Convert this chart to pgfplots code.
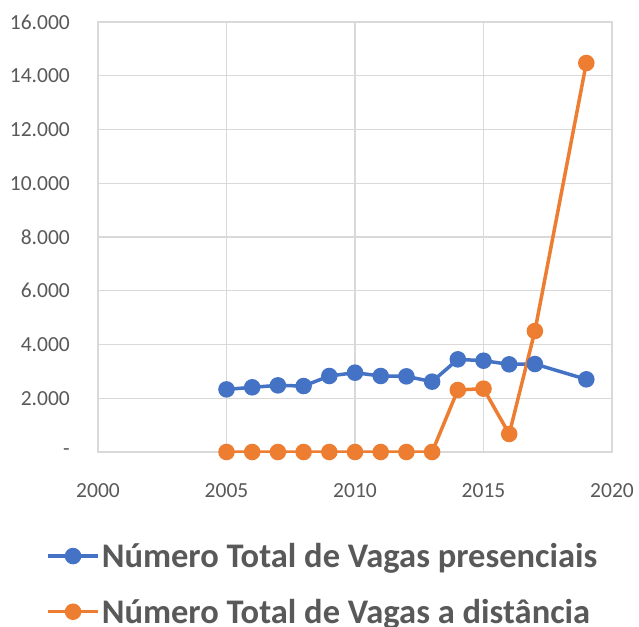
\documentclass[border=0pt]{standalone}
\usepackage{fontspec}
\setmainfont{Carlito}
\usepackage{pgfplots}
\pgfplotsset{compat=1.18}
\definecolor{cblue}{HTML}{4472C4}
\definecolor{corange}{HTML}{ED7D31}
\definecolor{ctext}{HTML}{595959}
\definecolor{cgrid}{HTML}{D9D9D9}
\begin{document}
\begin{tikzpicture}
\path[use as bounding box] (0,0) rectangle (639bp,-627bp);
\begin{axis}[
  at={(98bp,-452bp)}, anchor=south west,
  scale only axis, width=514bp, height=430bp,
  xmin=2000, xmax=2020, ymin=0, ymax=16000,
  scaled y ticks=false, scaled x ticks=false,
  xtick={2000,2005,2010,2015,2020},
  xticklabels={2000,2005,2010,2015,2020},
  ytick={0,2000,4000,6000,8000,10000,12000,14000,16000},
  yticklabels={-,2.000,4.000,6.000,8.000,10.000,12.000,14.000,16.000},
  /pgf/number format/assume math mode=true,
  grid=major,
  major grid style={cgrid, line width=1.3bp},
  axis line style={cgrid, line width=1.3bp},
  tick style={draw=none},
  ticklabel style={font=\fontsize{21.5bp}{25bp}\selectfont, text=ctext},
  xticklabel style={anchor=base, inner sep=0pt, yshift=-45bp},
  yticklabel style={anchor=east, inner sep=0pt, xshift=-28bp},
  legend style={draw=none, fill=none, at={(-0.101,-0.207)}, anchor=north west,
    font=\fontsize{34.5bp}{40bp}\selectfont\bfseries, text=ctext, row sep=26bp, inner sep=0pt,
    /tikz/every even column/.append style={column sep=0bp}},
  legend cell align=left,
  legend image code/.code={\draw[#1, mark repeat=2, mark phase=2] plot coordinates {(0bp,0bp) (25bp,0bp) (50bp,0bp)};},
]
\addplot[cblue, line width=3.5bp, mark=*, mark size=6.5bp, mark options={solid, fill=cblue, draw=cblue}] coordinates {
(2005,2330) (2006,2407) (2007,2480) (2008,2455) (2009,2828) (2010,2952) (2011,2828) (2012,2815) (2013,2617) (2014,3448) (2015,3398) (2016,3262) (2017,3274) (2019,2704)
};
\addlegendentry{Número Total de Vagas presenciais}
\addplot[corange, line width=3.5bp, mark=*, mark size=6.5bp, mark options={solid, fill=corange, draw=corange}] coordinates {
(2005,0) (2006,0) (2007,0) (2008,0) (2009,0) (2010,0) (2011,0) (2012,0) (2013,0) (2014,2307) (2015,2357) (2016,670) (2017,4502) (2019,14474)
};
\addlegendentry{Número Total de Vagas a distância}
\end{axis}
\end{tikzpicture}
\end{document}
